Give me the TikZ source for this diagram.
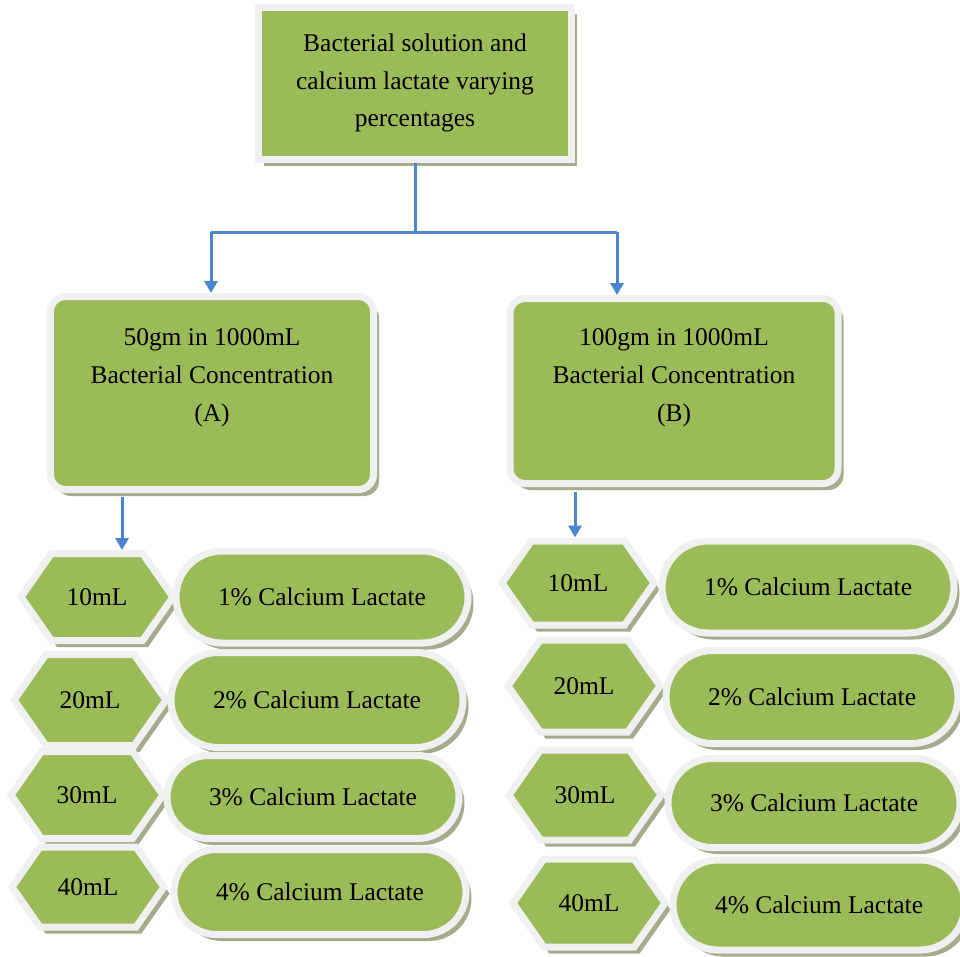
\documentclass[tikz,border=0pt]{standalone}
\usepackage{fontspec}
\setmainfont{Liberation Serif}
\usetikzlibrary{shapes.misc,shapes.symbols,shadows,arrows.meta}

\definecolor{boxgreen}{HTML}{9BBB59}
\definecolor{rimgrey}{HTML}{F0F0F0}
\definecolor{shadegreen}{HTML}{A4AC8E}
\definecolor{linkblue}{HTML}{4A86D0}

\tikzset{
  box/.style={fill=boxgreen, draw=rimgrey, line width=1.4mm,
    drop shadow={shadow xshift=1.1mm, shadow yshift=-1.3mm, fill=shadegreen, opacity=1},
    font=\fontsize{14.5pt}{21.5pt}\selectfont, align=center, inner sep=0pt},
  headbox/.style={box, rectangle, minimum width=62.6mm, minimum height=30.4mm},
  concbox/.style={box, rounded corners=3mm, minimum width=64.6mm, minimum height=38.6mm},
  volbox/.style={box, signal, signal to=west and east, signal pointer angle=110,
    minimum width=30.4mm, minimum height=17.4mm},
  pctbox/.style={box, rounded rectangle, minimum width=58.4mm, minimum height=18.4mm},
  link/.style={draw=linkblue, line width=0.6mm},
  flow/.style={link, -{Triangle[width=2.6mm,length=2.4mm]}}
}

\begin{document}
\begin{tikzpicture}[x=0.2mm, y=-0.2mm]
  \useasboundingbox (0,0) rectangle (960,956);
  \coordinate (split) at (415,232);
  \coordinate (splitL) at (211,232);
  \coordinate (splitR) at (617,232);
  \coordinate (dropA) at (122,497);
  \coordinate (dropB) at (575,492);
  \node[headbox] (top) at (415,83)
    {Bacterial solution and\\calcium lactate varying\\percentages};
  \node[concbox] (concA) at (212,393)
    {50gm in 1000mL\\Bacterial Concentration\\(A)\\[-1pt]\mbox{}};
  \node[concbox, minimum width=65.6mm, minimum height=37mm] (concB) at (674,391)
    {100gm in 1000mL\\Bacterial Concentration\\(B)\\[-3pt]\mbox{}};
  % left column
  \node[volbox] (volA1) at (97,597) {10mL};
  \node[volbox, minimum height=18.2mm] (volA2) at (90,700) {20mL};
  \node[volbox] (volA3) at (87,795) {30mL};
  \node[volbox, minimum height=16mm] (volA4) at (88,887) {40mL};
  \node[pctbox] (pctA1) at (322,597) {1\% Calcium Lactate};
  \node[pctbox, minimum height=19mm] (pctA2) at (317,700) {2\% Calcium Lactate};
  \node[pctbox, minimum height=16.6mm] (pctA3) at (313,797) {3\% Calcium Lactate};
  \node[pctbox, minimum height=17mm] (pctA4) at (320,892) {4\% Calcium Lactate};
  % right column
  \node[volbox, minimum height=16.8mm] (volB1) at (578,583) {10mL};
  \node[volbox, minimum height=18.4mm] (volB2) at (584,686) {20mL};
  \node[volbox, minimum height=18mm] (volB3) at (585,795) {30mL};
  \node[volbox, minimum height=17.6mm] (volB4) at (589,903) {40mL};
  \node[pctbox] (pctB1) at (808,587) {1\% Calcium Lactate};
  \node[pctbox, minimum height=18.6mm] (pctB2) at (812,697) {2\% Calcium Lactate};
  \node[pctbox, minimum height=17.8mm] (pctB3) at (814,803) {3\% Calcium Lactate};
  \node[pctbox, minimum height=18mm] (pctB4) at (819,905) {4\% Calcium Lactate};
  % connectors
  \draw[link] (top.south) -- (split);
  \draw[link] (splitL) -- (splitR);
  \draw[flow] (splitL) -- (splitL |- concA.north);
  \draw[flow] (splitR) -- (splitR |- concB.north);
  \draw[flow] (dropA) -- (dropA |- volA1.north);
  \draw[flow] (dropB) -- (dropB |- volB1.north);
\end{tikzpicture}
\end{document}
